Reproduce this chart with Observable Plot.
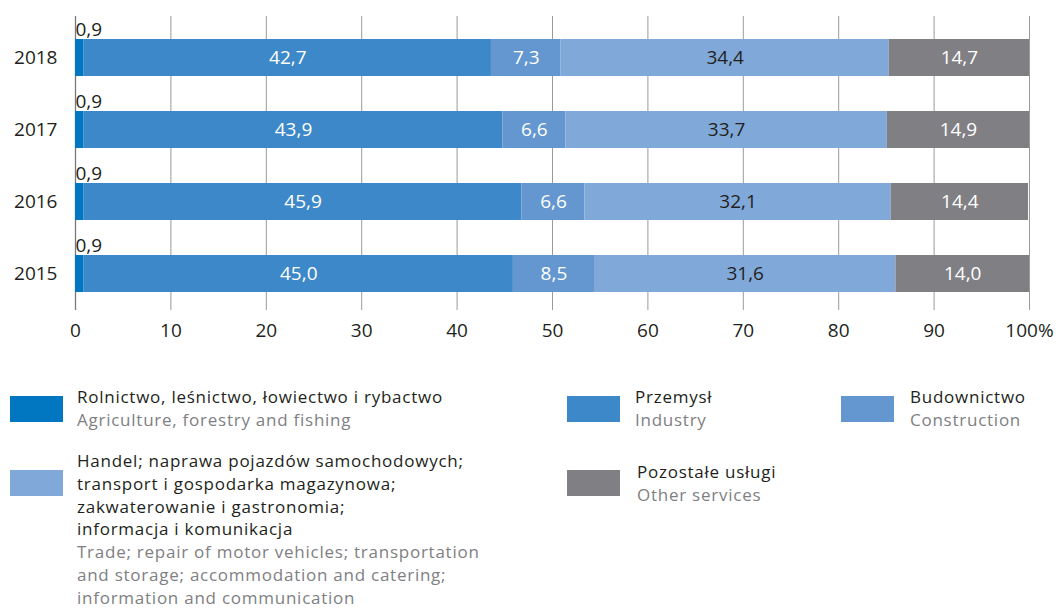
<!DOCTYPE html>
<html>
<head>
<meta charset="utf-8">
<script src="https://cdn.jsdelivr.net/npm/d3@7"></script>
<script src="https://cdn.jsdelivr.net/npm/@observablehq/plot@0.6"></script>
<style>
  html, body { margin: 0; padding: 0; background: #fff; }
  #wrap { position: relative; width: 1061px; height: 611px; font-family: "Open Sans", sans-serif; overflow: hidden; }
  #chart { position: absolute; left: 0; top: 0; }
  .sw { position: absolute; width: 53px; height: 26px; }
  .lt { position: absolute; font-size: 17px; letter-spacing: 0.75px; line-height: 23.3px; color: #231f20; white-space: nowrap; }
  .lt .en { color: #808083; }
</style>
</head>
<body>
<div id="wrap">
  <div id="chart"></div>
  <div id="legend"></div>
</div>
<script>
const years = ["2018", "2017", "2016", "2015"];
const sectors = ["agri", "industry", "construction", "trade", "other"];
const agriculture = [0.9, 0.9, 0.9, 0.9];
const industry = [42.7, 43.9, 45.9, 45.0];
const construction = [7.3, 6.6, 6.6, 8.5];
const trade = [34.4, 33.7, 32.1, 31.6];
const other = [14.7, 14.9, 14.4, 14.0];
const xTicks = [0, 10, 20, 30, 40, 50, 60, 70, 80, 90, 100];
const colors = ["#0077c0", "#3d88c8", "#6497cf", "#80a9da", "#808084"];
const labelColors = ["#231f20", "#ffffff", "#ffffff", "#231f20", "#ffffff"];
const legendPl = [
  ["Rolnictwo, leśnictwo, łowiectwo i rybactwo"],
  ["Przemysł"],
  ["Budownictwo"],
  ["Handel; naprawa pojazdów samochodowych;", "transport i gospodarka magazynowa;", "zakwaterowanie i gastronomia;", "informacja i komunikacja"],
  ["Pozostałe usługi"]
];
const legendEn = [
  ["Agriculture, forestry and fishing"],
  ["Industry"],
  ["Construction"],
  ["Trade; repair of motor vehicles; transportation", "and storage; accommodation and catering;", "information and communication"],
  ["Other services"]
];

const series = [agriculture, industry, construction, trade, other];
const data = [];
years.forEach((y, i) => sectors.forEach((s, j) => data.push({year: y, sector: s, value: series[j][i]})));
const fmt = v => v.toFixed(1).replace(".", ",");
const agriRows = data.filter(d => d.sector === "agri");

const chart = Plot.plot({
  width: 1061,
  height: 345,
  marginLeft: 75,
  marginRight: 32,
  marginTop: 20,
  marginBottom: 35,
  style: "font-family: 'Open Sans', sans-serif; font-size: 19px; color: #231f20; background: transparent;",
  x: {domain: [0, 100], label: null},
  y: {domain: years, paddingInner: 0.49, paddingOuter: 0.24, label: null},
  color: {domain: sectors, range: colors},
  marks: [
    Plot.ruleX(xTicks.slice(1), {stroke: "#9a9a9a", strokeWidth: 1, insetTop: -4}),
    Plot.ruleX([0], {stroke: "#7a7a7a", strokeWidth: 1.3, insetTop: -4}),
    Plot.barX(data, Plot.stackX({x: "value", y: "year", fill: "sector", order: sectors})),
    Plot.text(data, Plot.stackX({
      x: "value", y: "year", z: "sector", order: sectors,
      text: d => d.sector === "agri" ? "" : fmt(d.value),
      fill: d => labelColors[sectors.indexOf(d.sector)],
      fontSize: 19
    })),
    Plot.text(agriRows, {x: () => 0, y: "year", text: d => fmt(d.value), textAnchor: "start", dx: 0, dy: -28, fill: "#231f20", fontSize: 19}),
    Plot.axisX({ticks: xTicks, tickFormat: d => d === 100 ? "100%" : String(d), tickSize: 0, tickPadding: 13, fontSize: 19, fill: "#231f20", label: null}),
    Plot.axisY({tickSize: 0, tickPadding: 18, fontSize: 19, fill: "#231f20", label: null})
  ]
});
document.getElementById("chart").appendChild(chart);

// legend
const legend = document.getElementById("legend");
const pos = [
  {sx: 10, sy: 396, tx: 77, ty: 385, lh: 23.3},
  {sx: 567, sy: 396, tx: 635, ty: 385, lh: 23.3},
  {sx: 841, sy: 396, tx: 910, ty: 385, lh: 23.3},
  {sx: 10, sy: 470, tx: 77, ty: 450, lh: 22.8},
  {sx: 567, sy: 470, tx: 637, ty: 460, lh: 23.3}
];
sectors.forEach((s, i) => {
  const sw = document.createElement("div");
  sw.className = "sw";
  sw.style.left = pos[i].sx + "px";
  sw.style.top = pos[i].sy + "px";
  sw.style.background = colors[i];
  legend.appendChild(sw);
  const t = document.createElement("div");
  t.className = "lt";
  t.style.left = pos[i].tx + "px";
  t.style.top = pos[i].ty + "px";
  t.style.lineHeight = pos[i].lh + "px";
  t.innerHTML = legendPl[i].map(l => `<div>${l}</div>`).join("") + legendEn[i].map(l => `<div class="en">${l}</div>`).join("");
  legend.appendChild(t);
});
</script>
</body>
</html>
